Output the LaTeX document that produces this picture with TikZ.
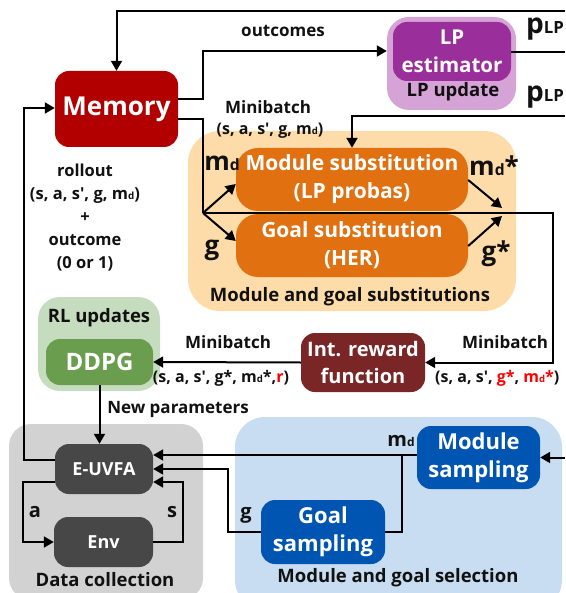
\documentclass[tikz,border=0pt]{standalone}
\usepackage{fontspec}
\setmainfont{Open Sans}
\usetikzlibrary{arrows.meta,calc}
\definecolor{memred}{HTML}{B20000}
\definecolor{lpin}{HTML}{9A2E9A}
\definecolor{lpout}{HTML}{D6A3D6}
\definecolor{orout}{HTML}{FDDCAA}
\definecolor{orin}{HTML}{E07010}
\definecolor{grout}{HTML}{C6DCBF}
\definecolor{grin}{HTML}{6A9E4E}
\definecolor{intred}{HTML}{7B2626}
\definecolor{gyout}{HTML}{D2D2D2}
\definecolor{gyin}{HTML}{474747}
\definecolor{blout}{HTML}{C8DDF2}
\definecolor{blin}{HTML}{0055B2}
\definecolor{txt}{HTML}{111111}
\newcommand\subs[1]{\scalebox{0.6}{#1}}
\newcommand\fs[2]{\fontsize{#1}{#2}\selectfont}
\newcommand\ap{\textquotesingle}
\begin{document}
\begin{tikzpicture}[x=1pt,y=-1pt,
  every node/.style={font=\bfseries, text=txt},
  outer/.style={rounded corners=22pt, draw=none, inner sep=0},
  inbox/.style={rounded corners=14pt, draw=none, inner sep=0, align=center, text=white},
  lbl/.style={inner sep=0, align=center},
  arr/.style={line width=2pt, -{Triangle[length=10pt,width=11pt]}},
  ln/.style={line width=2pt}]
\useasboundingbox (0,0) rectangle (565,593);
\clip (0,0) rectangle (565,593);
% outer groups
\node[outer, fill=lpout, minimum width=129, minimum height=93] (lpo) at (451.5,63.5) {};
\node[outer, fill=orout, minimum width=328, minimum height=180, rounded corners=32pt] (oro) at (352,221) {};
\node[outer, fill=grout, minimum width=122, minimum height=94] (gro) at (99,344) {};
\node[outer, fill=gyout, minimum width=194, minimum height=176] (gyo) at (106,512) {};
\node[outer, fill=blout, minimum width=327, minimum height=193, rounded corners=30pt] (blo) at (398.5,513.5) {};
% inner boxes
\node[inbox, fill=memred, minimum width=123, minimum height=76, font=\bfseries\fs{26}{30}] (mem) at (116.5,109) {Memory};
\node[inbox, fill=lpin, minimum width=118, minimum height=59, font=\bfseries\fs{20.5}{28}] (lpi) at (452,51.5) {LP\\estimator};
\node[inbox, fill=orin, minimum width=232, minimum height=63, rounded corners=22pt, font=\bfseries\fs{21}{28}] (modsub) at (352,179.5) {Module substitution\\(LP probas)};
\node[inbox, fill=orin, minimum width=232, minimum height=63, rounded corners=22pt, font=\bfseries\fs{21}{28}] (goalsub) at (352,245.5) {Goal substitution\\(HER)};
\node[inbox, fill=grin, minimum width=107, minimum height=46, font=\bfseries\fs{24}{28}] (ddpg) at (99.5,362) {DDPG};
\node[inbox, fill=intred, minimum width=124, minimum height=59, font=\bfseries\fs{20}{27}] (intr) at (363,362.5) {Int. reward\\function};
\node[inbox, fill=gyin, minimum width=98, minimum height=50, font=\bfseries\fs{18}{22}] (euvfa) at (104,469) {E-UVFA};
\node[inbox, fill=gyin, minimum width=99, minimum height=50, font=\bfseries\fs{18}{22}] (env) at (103.5,542) {Env};
\node[inbox, fill=blin, minimum width=123, minimum height=63, font=\bfseries\fs{22}{28}] (msamp) at (478.5,457.5) {Module\\sampling};
\node[inbox, fill=blin, minimum width=124, minimum height=64, font=\bfseries\fs{22}{28}] (gsamp) at (323,532) {Goal\\sampling};
% free ends
\coordinate (rtop) at (565,11);
\coordinate (rlp) at (565,52.5);
\coordinate (rlp2) at (565,116);
\coordinate (rms) at (565,457.5);
\coordinate (br) at (203,213);
\coordinate (rc) at (553,213);
\coordinate (mj1) at (502,208);
\coordinate (mj2) at (502,216);
% connectors
\draw[arr] (rtop) -| (mem.north);
\draw[arr] (mem.east |- 0,99) -- (203,99) |- (lpo.west |- 0,51);
\draw[ln] (lpi.east |- rlp) -- (rlp);
\draw[arr] (rlp2) -| (modsub.north);
\draw[ln] (mem.east |- 0,119) -| (br);
\draw[arr] (br) -- (modsub.west |- 0,184);
\draw[arr] (br) -- (goalsub.west |- 0,241);
\draw[arr] (br) -- (rc) |- (intr.east);
\draw[arr] (modsub.east |- 0,180) -- (mj1);
\draw[arr] (goalsub.east |- 0,246) -- (mj2);
\draw[arr] (intr.west) -- (ddpg.east);
\draw[arr] (ddpg.south) -- (ddpg.south |- euvfa.north);
\draw[arr] (euvfa.west |- 0,460) -- (24,460) |- (mem.west |- 0,108);
\draw[arr] (euvfa.west |- 0,482) -- (23,482) |- (env.west);
\draw[arr] (env.east) -- (183,542) |- (euvfa.east |- 0,482);
\draw[arr] (rms) -- (msamp.east);
\draw[arr] (msamp.west |- 0,455) -- (euvfa.east |- 0,455);
\draw[ln] (gsamp.east) -| (402,455);
\draw[arr] (gsamp.west) -- (228,532) |- (euvfa.east |- 0,469);
% labels
\node[lbl, font=\bfseries\fs{17}{20}] (loutc) at (283,31) {outcomes};
\node[lbl, font=\bfseries\fs{17}{20}] (lmb1) at (268,107) {Minibatch};
\node[lbl, font=\bfseries\fs{16}{20}] (lmb1b) at (270,131) {(s, a, s\ap, g, m\subs{d})};
\node[lbl, font=\bfseries\fs{16.5}{23}] (lroll) at (85,218) {rollout\\(s, a, s\ap, g, m\subs{d})\\+\\outcome\\(0 or 1)};
\node[lbl, font=\bfseries\fs{26}{30}] (lmd) at (222,163) {m\subs{d}};
\node[lbl, font=\bfseries\fs{26}{30}] (lg) at (212,250) {g};
\node[lbl, font=\bfseries\fs{26}{30}] (lmds) at (494,166) {m\subs{d}*};
\node[lbl, font=\bfseries\fs{26}{30}] (lgs) at (496,254) {g*};
\node[lbl, font=\bfseries\fs{18.5}{22}] (lmgs) at (350,297) {Module and goal substitutions};
\node[lbl, font=\bfseries\fs{18.5}{22}] (llpu) at (453,92) {LP update};
\node[lbl, font=\bfseries\fs{28}{30}] (lp1) at (545,29) {p\subs{LP}};
\node[lbl, font=\bfseries\fs{28}{30}] (lp2) at (545,97) {p\subs{LP}};
\node[lbl, font=\bfseries\fs{18.5}{22}] (lrl) at (99,318) {RL updates};
\node[lbl, font=\bfseries\fs{17}{20}] (lmb2) at (228,342) {Minibatch};
\node[lbl, font=\bfseries\fs{16}{20}] (lmb2b) at (221,378) {(s, a, s\ap, g*, m\subs{d}*,\textcolor{red}{r})};
\node[lbl, font=\bfseries\fs{17}{20}] (lmb3) at (505,342) {Minibatch};
\node[lbl, font=\bfseries\fs{16}{20}, anchor=west] (lmb3b) at (435,378) {(s, a, s\ap, \textcolor{red}{g*}, \textcolor{red}{m\subs{d}*})};
\node[lbl, font=\bfseries\fs{17}{20}] (lnp) at (178,409) {New parameters};
\node[lbl, font=\bfseries\fs{20}{22}] (la) at (35,512) {a};
\node[lbl, font=\bfseries\fs{20}{22}] (ls) at (172,512) {s};
\node[lbl, font=\bfseries\fs{20}{22}] (lgg) at (246,515) {g};
\node[lbl, font=\bfseries\fs{20}{22}] (lmd2) at (401,441) {m\subs{d}};
\node[lbl, font=\bfseries\fs{18.5}{22}] (ldc) at (105,580) {Data collection};
\node[lbl, font=\bfseries\fs{18.5}{22}] (lmgsel) at (398,578) {Module and goal selection};
\end{tikzpicture}
\end{document}
